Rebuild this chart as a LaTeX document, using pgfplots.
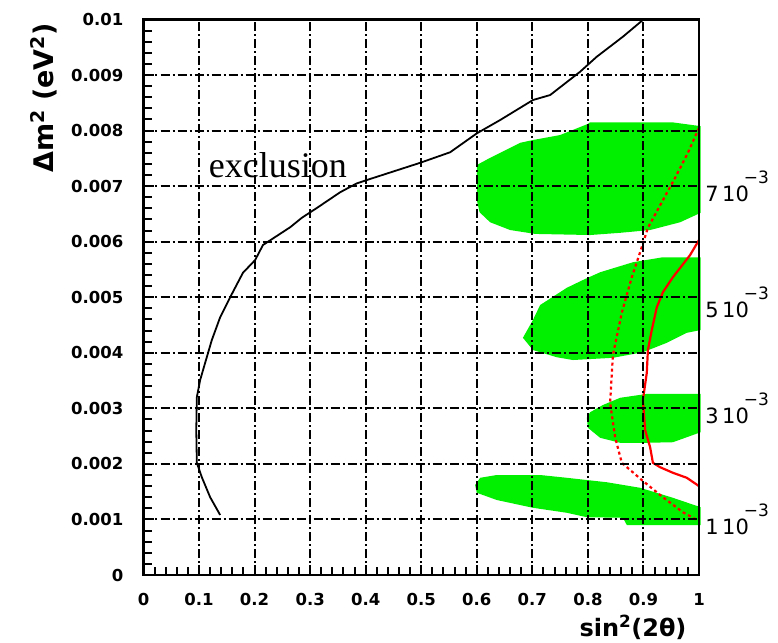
\documentclass[border=0pt]{standalone}
\usepackage{pgfplots}
\pgfplotsset{compat=1.18}
\usepackage{fontspec}
\setmainfont{DejaVu Sans}
\newfontfamily\timesf{Liberation Serif}
\definecolor{fillgreen}{RGB}{0,240,0}
\newcommand{\rlab}[1]{#1\,10\hspace{-5pt}\raisebox{18pt}{\fontsize{17}{18}\selectfont −3}}
\tikzset{tl/.style={inner sep=0pt, font=\fontsize{16.5}{18}\selectfont\bfseries}}
\newcommand{\xl}[2]{\node[tl, anchor=base] at (axis cs:#1,0) [yshift=-30pt] {#2};}
\newcommand{\yl}[2]{\node[tl, anchor=east] at (axis cs:0,#1) [xshift=-20pt] {#2};}
\begin{document}
\begin{tikzpicture}
\begin{axis}[
  at={(0pt,0pt)}, anchor=south west,
  scale only axis, width=555.5pt, height=555.5pt,
  xmin=0, xmax=1, ymin=0, ymax=0.01,
  clip=false,
  axis on top,
  axis line style={line width=2.6pt},
  xtick={0,0.1,0.2,0.3,0.4,0.5,0.6,0.7,0.8,0.9,1},
  ytick={0,0.001,0.002,0.003,0.004,0.005,0.006,0.007,0.008,0.009,0.01},
  xticklabels={}, yticklabels={},
  scaled y ticks=false,
  minor tick num=4,
  tick align=inside,
  xtick pos=bottom, ytick pos=left,
  major tick length=10pt, minor tick length=8pt,
  every tick/.style={line width=2pt, black},
  grid=major,
  major grid style={black, line width=2pt, dash pattern=on 9pt off 3pt on 2pt off 3pt},
]
% green allowed regions
\addplot[fill=fillgreen, draw=none] coordinates {
(0.600,0.00738)(0.624,0.00751)(0.642,0.00760)(0.678,0.00778)(0.701,0.00783)
(0.750,0.00792)(0.800,0.00812)(0.804,0.00815)(0.951,0.00815)(1.003,0.00808)
(1.003,0.00652)(0.966,0.00635)(0.912,0.00621)(0.858,0.00616)(0.804,0.00612)
(0.705,0.00614)(0.660,0.00621)(0.624,0.00635)(0.605,0.00653)(0.600,0.00675)
} -- cycle;
\addplot[fill=fillgreen, draw=none] coordinates {
(0.683,0.00427)(0.701,0.00459)(0.714,0.00486)(0.762,0.00517)(0.791,0.00531)
(0.822,0.00545)(0.881,0.00563)(0.935,0.00572)(1.003,0.00572)(1.003,0.00441)
(0.978,0.00436)(0.942,0.00418)(0.899,0.00401)(0.845,0.00391)(0.773,0.00387)
(0.744,0.00392)(0.701,0.00405)
} -- cycle;
\addplot[fill=fillgreen, draw=none] coordinates {
(0.798,0.00283)(0.804,0.00293)(0.827,0.00306)(0.858,0.00319)(0.906,0.00326)
(1.003,0.00326)(1.003,0.00257)(0.953,0.00239)(0.906,0.00238)(0.858,0.00238)
(0.822,0.00247)(0.800,0.00265)
} -- cycle;
\addplot[fill=fillgreen, draw=none] coordinates {
(0.597,0.00162)(0.606,0.00175)(0.636,0.00180)(0.714,0.00180)(0.762,0.00175)
(0.834,0.00167)(0.894,0.00157)(0.953,0.00139)(1.003,0.00122)(1.003,0.00090)
(0.870,0.00090)(0.863,0.00103)(0.798,0.00104)(0.762,0.00112)(0.701,0.00121)
(0.636,0.00135)(0.600,0.00148)
} -- cycle;
% exclusion curve
\addplot[black, line width=1.8pt] coordinates {
(0.138,0.00108)(0.120,0.00140)(0.105,0.00176)(0.096,0.00202)(0.095,0.00261)
(0.096,0.00320)(0.102,0.00351)(0.111,0.00382)(0.123,0.00423)(0.138,0.00464)
(0.156,0.00500)(0.179,0.00544)(0.201,0.00567)(0.215,0.00594)(0.264,0.00626)
(0.285,0.00643)(0.314,0.00662)(0.354,0.00689)(0.384,0.00705)(0.402,0.00711)
(0.498,0.00742)(0.552,0.00761)(0.600,0.00795)(0.642,0.00819)(0.701,0.00855)
(0.732,0.00864)(0.786,0.00906)(0.816,0.00933)(0.863,0.00969)(0.900,0.01000)
};
% red dashed curve
\addplot[red, line width=2.2pt, dash pattern=on 3pt off 3pt] coordinates {
(1.000,0.00805)(0.980,0.00760)(0.957,0.00715)(0.933,0.00671)(0.908,0.00625)
(0.894,0.00581)(0.879,0.00536)(0.861,0.00472)(0.845,0.00396)(0.840,0.00310)
(0.849,0.00248)(0.861,0.00202)(0.897,0.00171)(0.935,0.00140)(0.971,0.00113)
(1.000,0.00097)
};
% red solid curve
\addplot[red, line width=2.2pt] coordinates {
(1.000,0.00603)(0.984,0.00576)(0.953,0.00536)(0.935,0.00509)(0.924,0.00482)
(0.915,0.00441)(0.908,0.00405)(0.906,0.00364)(0.899,0.00315)(0.903,0.00261)
(0.912,0.00230)(0.917,0.00202)(0.930,0.00194)(0.953,0.00184)(0.978,0.00175)
(1.000,0.00160)
};
\node[font=\timesf\fontsize{36}{40}\selectfont] at (axis cs:0.242,0.00738) {exclusion};
\node[anchor=west, inner sep=0pt, font=\fontsize{21}{22}\selectfont] at (axis cs:1.011,0.0070) {\rlab{7}};
\node[anchor=west, inner sep=0pt, font=\fontsize{21}{22}\selectfont] at (axis cs:1.011,0.0049) {\rlab{5}};
\node[anchor=west, inner sep=0pt, font=\fontsize{21}{22}\selectfont] at (axis cs:1.011,0.0030) {\rlab{3}};
\node[anchor=west, inner sep=0pt, font=\fontsize{21}{22}\selectfont] at (axis cs:1.011,0.0010) {\rlab{1}};
% tick labels
\xl{0}{0}\xl{0.1}{0.1}\xl{0.2}{0.2}\xl{0.3}{0.3}\xl{0.4}{0.4}\xl{0.5}{0.5}
\xl{0.6}{0.6}\xl{0.7}{0.7}\xl{0.8}{0.8}\xl{0.9}{0.9}\xl{1}{1}
\yl{0}{0}\yl{0.001}{0.001}\yl{0.002}{0.002}\yl{0.003}{0.003}\yl{0.004}{0.004}
\yl{0.005}{0.005}\yl{0.006}{0.006}\yl{0.007}{0.007}\yl{0.008}{0.008}
\yl{0.009}{0.009}\yl{0.01}{0.01}
\end{axis}
\node[font=\fontsize{24}{26}\selectfont\bfseries] at (489.5pt,-52pt) {sin\textsuperscript{2}(2θ)};
\node[font=\fontsize{27}{29}\selectfont\bfseries, rotate=90] at (-99.5pt,477pt) {Δm\textsuperscript{2} (eV\textsuperscript{2})};
\pgfresetboundingbox
\path[use as bounding box] (-143.5pt,-67pt) rectangle (634.5pt,575pt);
\end{tikzpicture}
\end{document}
